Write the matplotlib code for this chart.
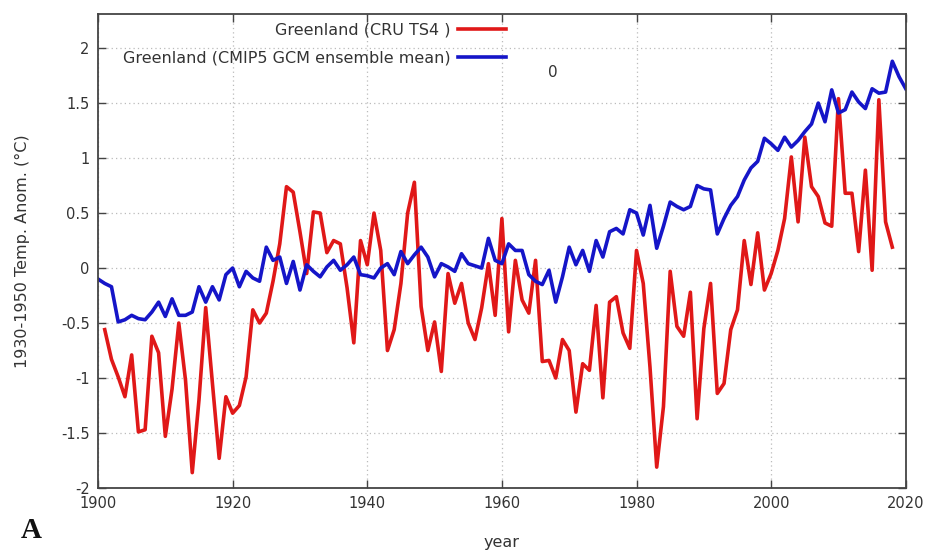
import matplotlib
matplotlib.use("Agg")
import matplotlib.pyplot as plt

# Greenland temperature anomaly relative to 1930-1950 (deg C)
cru_years = list(range(1901, 2019))
cru_values = [
    -0.56, -0.83, -0.99, -1.17, -0.79, -1.49, -1.47, -0.62, -0.77, -1.53,
    -1.10, -0.50, -1.02, -1.86, -1.20, -0.36, -1.05, -1.73, -1.17, -1.32,
    -1.25, -0.99, -0.38, -0.50, -0.41, -0.12, 0.22, 0.74, 0.69, 0.33,
    -0.05, 0.51, 0.50, 0.14, 0.25, 0.22, -0.18, -0.68, 0.25, 0.03,
    0.50, 0.16, -0.75, -0.56, -0.14, 0.50, 0.78, -0.35, -0.75, -0.49,
    -0.94, -0.05, -0.32, -0.14, -0.50, -0.65, -0.36, 0.04, -0.43, 0.45,
    -0.58, 0.07, -0.29, -0.41, 0.07, -0.85, -0.84, -1.00, -0.65, -0.75,
    -1.31, -0.87, -0.93, -0.34, -1.18, -0.31, -0.26, -0.59, -0.73, 0.16,
    -0.14, -0.90, -1.81, -1.26, -0.03, -0.53, -0.62, -0.22, -1.37, -0.55,
    -0.14, -1.14, -1.05, -0.56, -0.38, 0.25, -0.15, 0.32, -0.20, -0.05,
    0.16, 0.45, 1.01, 0.42, 1.19, 0.74, 0.65, 0.41, 0.38, 1.54,
    0.68, 0.68, 0.15, 0.89, -0.02, 1.53, 0.42, 0.19,
]

gcm_years = list(range(1900, 2021))
gcm_values = [
    -0.10, -0.14, -0.17, -0.49, -0.47, -0.43, -0.46, -0.47, -0.40, -0.31,
    -0.44, -0.28, -0.43, -0.43, -0.40, -0.17, -0.31, -0.17, -0.29, -0.06,
    0.00, -0.17, -0.03, -0.09, -0.12, 0.19, 0.07, 0.10, -0.14, 0.06,
    -0.20, 0.03, -0.03, -0.08, 0.01, 0.07, -0.02, 0.03, 0.10, -0.06,
    -0.07, -0.09, 0.00, 0.04, -0.06, 0.15, 0.04, 0.12, 0.19, 0.10,
    -0.08, 0.04, 0.01, -0.03, 0.13, 0.04, 0.02, 0.00, 0.27, 0.07,
    0.04, 0.22, 0.16, 0.16, -0.06, -0.12, -0.15, -0.02, -0.31, -0.08,
    0.19, 0.03, 0.16, -0.03, 0.25, 0.10, 0.33, 0.36, 0.31, 0.53,
    0.50, 0.30, 0.57, 0.18, 0.38, 0.60, 0.56, 0.53, 0.56, 0.75,
    0.72, 0.71, 0.31, 0.45, 0.57, 0.65, 0.80, 0.91, 0.97, 1.18,
    1.13, 1.07, 1.19, 1.10, 1.16, 1.24, 1.31, 1.50, 1.33, 1.62,
    1.41, 1.44, 1.60, 1.51, 1.45, 1.63, 1.59, 1.60, 1.88, 1.74,
    1.63,
]

x_ticks = [1900, 1920, 1940, 1960, 1980, 2000, 2020]
y_ticks = [-2, -1.5, -1, -0.5, 0, 0.5, 1, 1.5, 2]
y_tick_labels = ["-2", "-1.5", "-1", "-0.5", "0", "0.5", "1", "1.5", "2"]

plt.rcParams["font.family"] = ["DejaVu Sans"]

fig = plt.figure(figsize=(9.29, 5.55), dpi=100)
ax = fig.add_axes([0.1055, 0.1207, 0.8695, 0.8541])

ax.plot(cru_years, cru_values, color="#e01818", lw=2.6,
        label="Greenland (CRU TS4 )", solid_joinstyle="round")
ax.plot(gcm_years, gcm_values, color="#1515c8", lw=2.6,
        label="Greenland (CMIP5 GCM ensemble mean)", solid_joinstyle="round")

ax.set_xlim(1900, 2020)
ax.set_ylim(-2, 2.31)
ax.set_xticks(x_ticks)
ax.set_yticks(y_ticks)
ax.set_yticklabels(y_tick_labels)
ax.tick_params(direction="in", top=True, right=True, length=6, width=1,
               labelsize=10.5, labelcolor="#333333", color="#444444", pad=6)
ax.grid(True, linestyle=(0, (1, 2.5)), color="#bbbbbb", lw=0.9)
for s in ax.spines.values():
    s.set_color("#444444")
    s.set_linewidth(1.3)

ax.set_xlabel("year", fontsize=11.5, color="#333333", labelpad=17)
ax.set_ylabel("1930-1950 Temp. Anom. (\u00b0C)", fontsize=11.5,
              color="#333333", labelpad=22)

leg = ax.legend(loc="upper right", bbox_to_anchor=(0.523, 1.012),
                frameon=False, markerfirst=False, fontsize=11.5,
                handlelength=3.0, handletextpad=0.45, labelspacing=0.8)
for t in leg.get_texts():
    t.set_color("#333333")

ax.text(1967.6, 1.78, "0", fontsize=11, color="#333333",
        ha="center", va="center")

fig.text(0.022, 0.03, "A", fontsize=21, family="Liberation Serif",
         weight="bold", color="#111111")

fig.savefig("out.png", dpi=100)
